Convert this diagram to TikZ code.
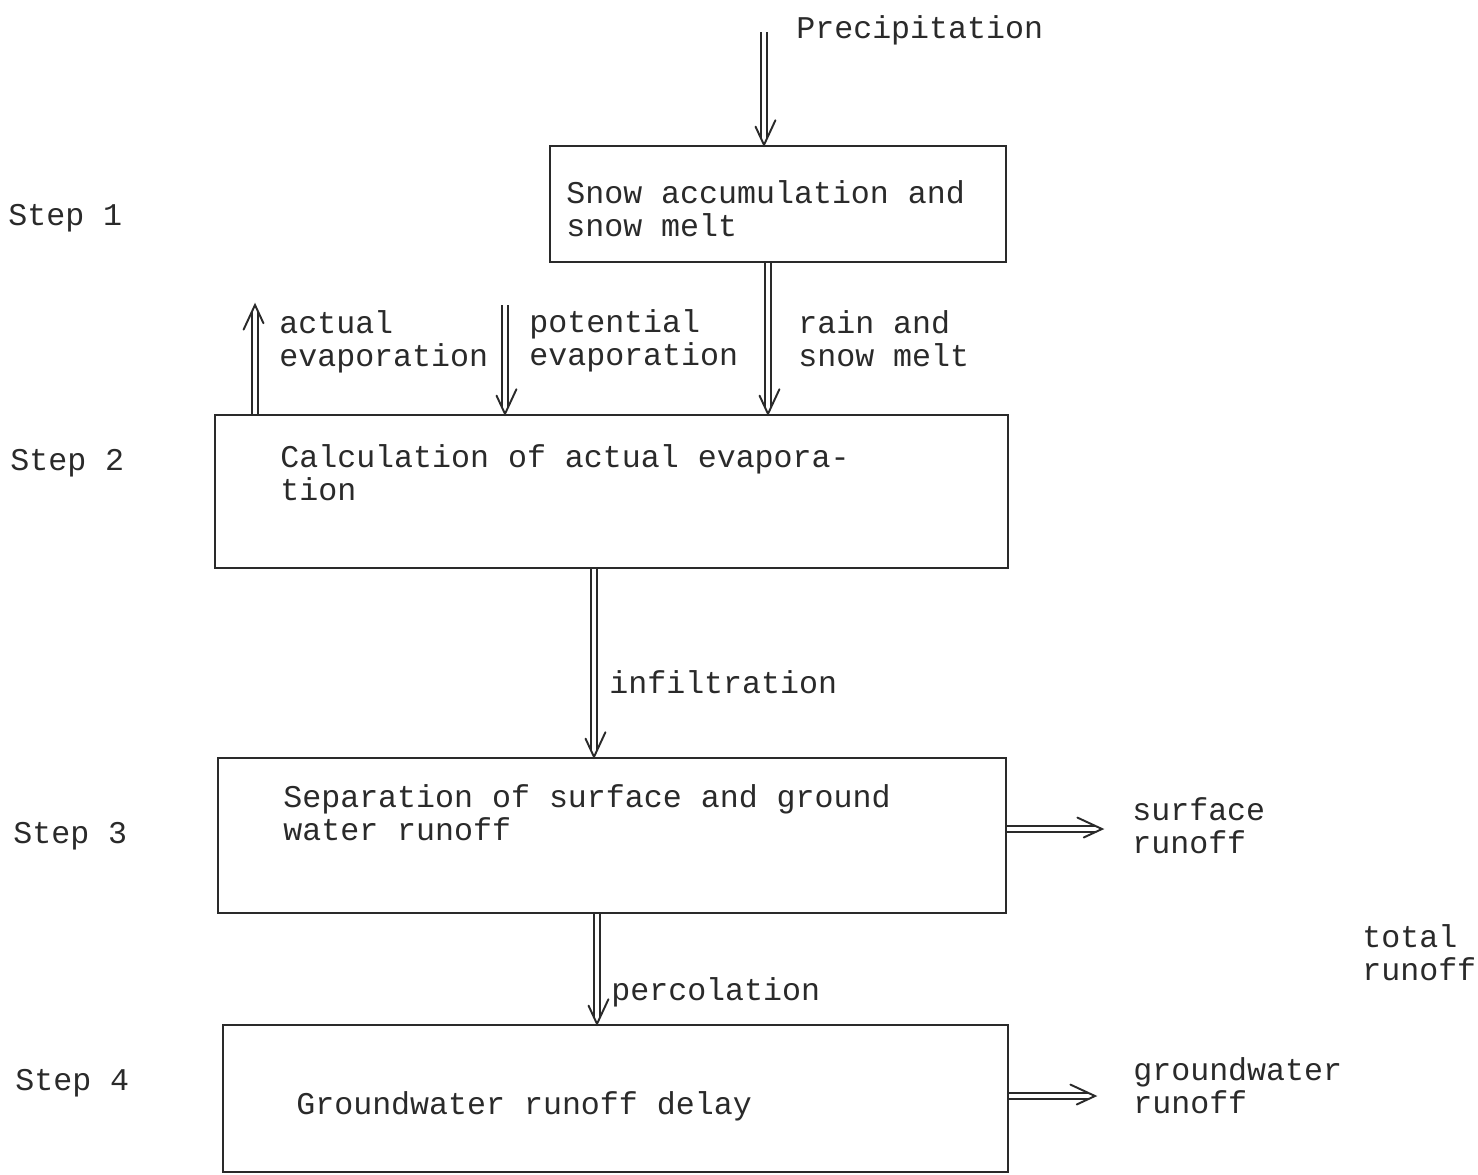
\documentclass[tikz,border=0pt]{standalone}
\usepackage{fontspec}
\setmainfont{Liberation Mono}
\usetikzlibrary{arrows.meta,decorations.markings}
\definecolor{ink}{HTML}{2A2A2A}
\begin{document}
\begin{tikzpicture}[x=0.02cm,y=-0.02cm,
  bx/.style 2 args={draw=ink, line width=1.3pt, inner sep=0, minimum width=#1*0.02cm, minimum height=#2*0.02cm},
  lbl/.style={anchor=west, inner sep=0, text=ink, font=\fontsize{18}{18.7}\selectfont, align=left},
  vhead/.style={decoration={markings, mark=at position 1 with {\draw[ink, line width=1.1pt, line cap=round, line join=miter] (-14pt,6.5pt) -- (0,0) -- (-14pt,-6.5pt);}}},
  dar/.style={draw=ink, double, double distance=2.4pt, line width=1pt, shorten >=4pt, postaction={vhead, decorate}},
]
\useasboundingbox[fill=white] (0,0) rectangle (1478,1174);
% boxes
\node[bx={456}{116}] (b1) at (778,204) {};
\node[bx={793}{153}] (b2) at (611.5,491.5) {};
\node[bx={788}{155}] (b3) at (612,835.5) {};
\node[bx={785}{147}] (b4) at (615.5,1098.5) {};
% box texts
\node[lbl] (t1) at (566,209) {Snow accumulation and\\snow melt};
\node[lbl] (t2) at (280,473) {Calculation of actual evapora-\\tion};
\node[lbl] (t3) at (283,813) {Separation of surface and ground\\water runoff};
\node[lbl] (t4) at (296,1106) {Groundwater runoff delay};
% step labels
\node[lbl] (s1) at (8,218) {Step 1};
\node[lbl] (s2) at (10,463) {Step 2};
\node[lbl] (s3) at (13,836) {Step 3};
\node[lbl] (s4) at (15,1083) {Step 4};
% flow labels
\node[lbl] (lp) at (796,30) {Precipitation};
\node[lbl] (lae) at (279,342) {actual\\evaporation};
\node[lbl] (lpe) at (529,341) {potential\\evaporation};
\node[lbl] (lrs) at (798,339) {rain and\\snow melt};
\node[lbl] (li) at (609,682) {infiltration};
\node[lbl] (lpc) at (611,992) {percolation};
\node[lbl] (lsr) at (1132,826) {surface\\runoff};
\node[lbl] (ltr) at (1362,953) {total\\runoff};
\node[lbl] (lgr) at (1133,1086) {groundwater\\runoff};
% connector coordinates
\coordinate (p0) at (764,32);
\coordinate (rs) at (768,0);
\coordinate (pe) at (505,305);
\coordinate (ae) at (255,305);
\coordinate (inf) at (594,0);
\coordinate (pc) at (597,0);
\coordinate (sr) at (1102,829);
\coordinate (gr) at (1095,1096);
% connectors
\draw[dar] (p0) -- (b1.north -| p0);
\draw[dar] (b1.south -| rs) -- (b2.north -| rs);
\draw[dar] (pe) -- (b2.north -| pe);
\draw[dar] (b2.north -| ae) -- (ae);
\draw[dar] (b2.south -| inf) -- (b3.north -| inf);
\draw[dar] (b3.south -| pc) -- (b4.north -| pc);
\draw[dar] (b3.east |- sr) -- (sr);
\draw[dar] (b4.east |- gr) -- (gr);
\end{tikzpicture}
\end{document}
